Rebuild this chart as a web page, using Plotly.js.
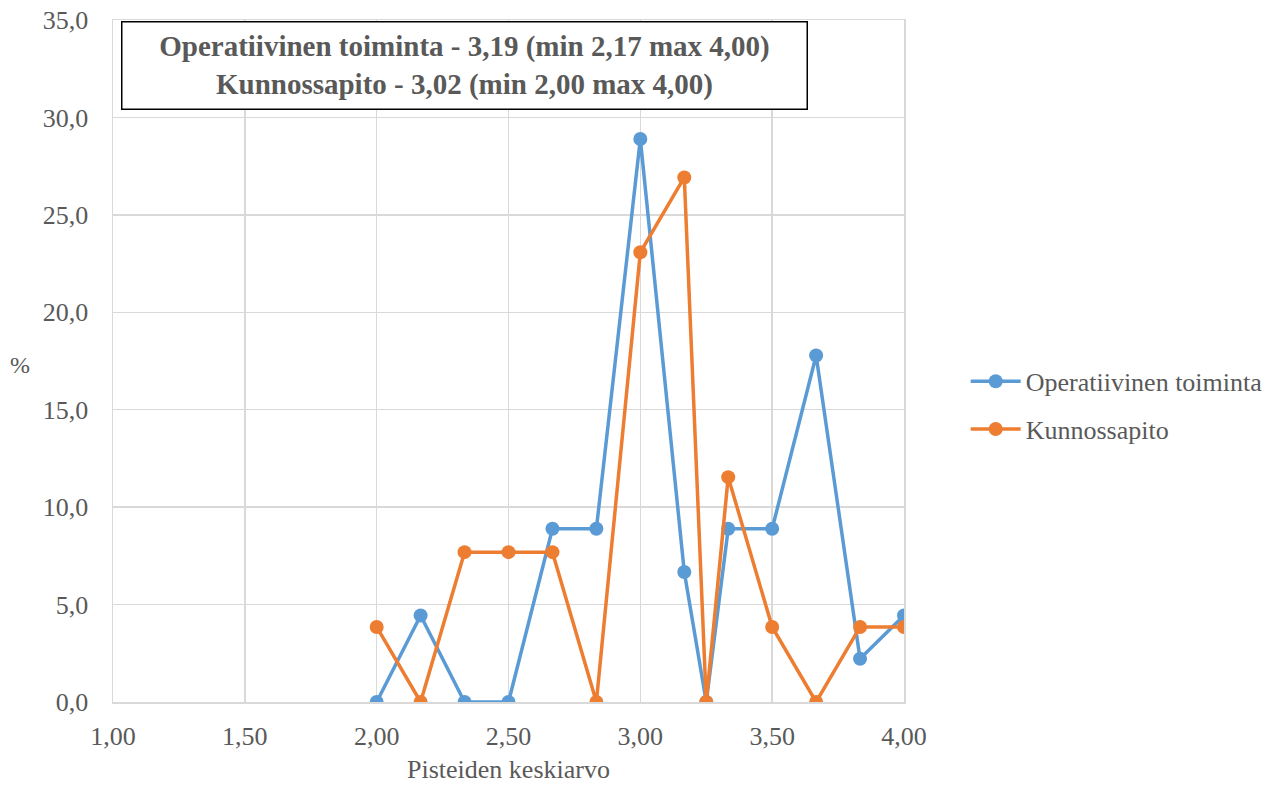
<!DOCTYPE html>
<html>
<head>
<meta charset="utf-8">
<script src="https://cdn.plot.ly/plotly-3.0.1.min.js"></script>
<style>html,body{margin:0;padding:0;background:#fff;}#chart{width:1280px;height:785px;}</style>
</head>
<body>
<div id="chart"></div>
<script>
const xValues = [2.00, 2.1667, 2.3333, 2.50, 2.6667, 2.8333, 3.00, 3.1667, 3.25, 3.3333, 3.50, 3.6667, 3.8333, 4.00];
const operatiivinen = [0, 4.44, 0, 0, 8.89, 8.89, 28.89, 6.67, 0, 8.89, 8.89, 17.78, 2.22, 4.44];
const kunnossapito = [3.85, 0, 7.69, 7.69, 7.69, 0, 23.08, 26.92, 0, 11.54, 3.85, 0, 3.85, 3.85];
const seriesNames = ["Operatiivinen toiminta", "Kunnossapito"];
const xTicks = [1.0, 1.5, 2.0, 2.5, 3.0, 3.5, 4.0];
const yTicks = [0, 5, 10, 15, 20, 25, 30, 35];
const boxText = "Operatiivinen toiminta - 3,19 (min 2,17 max 4,00)<br>Kunnossapito - 3,02 (min 2,00 max 4,00)";

const font = "Liberation Serif, Times New Roman, serif";
const grey = "#595959";

const traces = [
  {x: xValues, y: operatiivinen, name: seriesNames[0], type: "scatter", mode: "lines+markers",
   legendgroup: "a", line: {color: "#5B9BD5", width: 3.5}, marker: {color: "#5B9BD5", size: 14}},
  {x: xValues, y: kunnossapito, name: seriesNames[1], type: "scatter", mode: "lines+markers",
   legendgroup: "b", line: {color: "#ED7D31", width: 3.5}, marker: {color: "#ED7D31", size: 14}}
];

const layout = {
  width: 1280, height: 785,
  margin: {l: 113, r: 376, t: 20, b: 83},
  separators: ",.",
  paper_bgcolor: "#fff", plot_bgcolor: "#fff",
  font: {family: font, color: grey, size: 26},
  xaxis: {range: [1, 4], tickvals: xTicks, tickformat: ".2f", showgrid: true, gridcolor: "#d9d9d9", gridwidth: 1.5,
          zeroline: false, showline: true, linecolor: "#d9d9d9", linewidth: 1.5, mirror: true,
          ticks: "outside", ticklen: 10, tickcolor: "rgba(0,0,0,0)",
          tickfont: {size: 26, color: grey, family: font},
          title: {text: "Pisteiden keskiarvo", font: {size: 26, color: grey, family: font}, standoff: 10}},
  yaxis: {range: [0, 35], tickvals: yTicks, tickformat: ".1f", showgrid: true, gridcolor: "#d9d9d9", gridwidth: 1.5,
          zeroline: false, showline: true, linecolor: "#d9d9d9", linewidth: 1.5, mirror: true,
          ticks: "outside", ticklen: 18, tickcolor: "rgba(0,0,0,0)",
          tickfont: {size: 26, color: grey, family: font}},
  showlegend: true,
  legend: {x: 1.078, y: 0.435, xanchor: "left", yanchor: "middle", traceorder: "grouped", tracegroupgap: 11,
           font: {size: 26, color: grey, family: font}, bgcolor: "rgba(0,0,0,0)", itemwidth: 50},
  annotations: [
    {xref: "paper", yref: "paper", x: 0.445, y: 0.9326, xanchor: "center", yanchor: "middle", showarrow: false,
     text: "<b>" + boxText + "</b>", font: {size: 29, color: grey, family: font},
     bordercolor: "#000", borderwidth: 1.5, bgcolor: "#fff", width: 680, height: 82, borderpad: 2},
    {xref: "paper", yref: "paper", x: -0.118, y: 0.494, xanchor: "center", yanchor: "middle", showarrow: false,
     text: "%", font: {size: 24, color: grey, family: font}}
  ]
};

Plotly.newPlot("chart", traces, layout, {displayModeBar: false, staticPlot: true});
</script>
</body>
</html>
